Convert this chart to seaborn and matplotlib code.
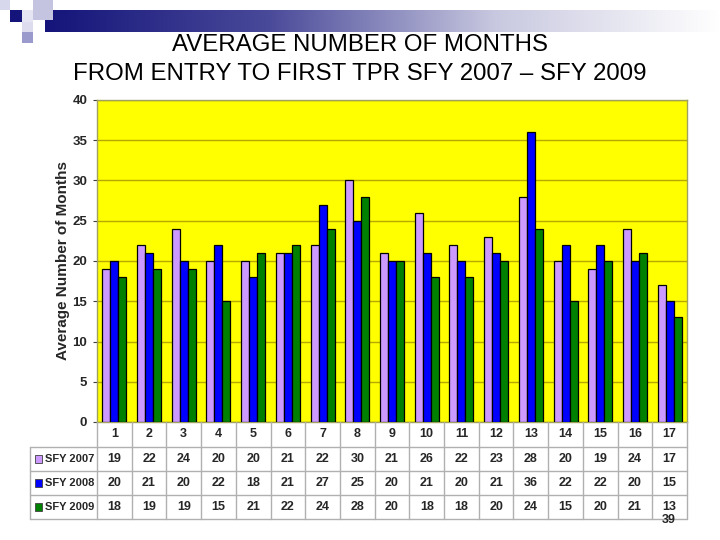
import matplotlib
matplotlib.use("Agg")
import matplotlib.pyplot as plt
import seaborn as sns
import pandas as pd
import numpy as np
from matplotlib.patches import Rectangle
from matplotlib.lines import Line2D
from matplotlib.colors import LinearSegmentedColormap
from matplotlib import font_manager

categories = [str(i) for i in range(1, 18)]
series_names = ["SFY 2007", "SFY 2008", "SFY 2009"]
sfy2007 = [19, 22, 24, 20, 20, 21, 22, 30, 21, 26, 22, 23, 28, 20, 19, 24, 17]
sfy2008 = [20, 21, 20, 22, 18, 21, 27, 25, 20, 21, 20, 21, 36, 22, 22, 20, 15]
sfy2009 = [18, 19, 19, 15, 21, 22, 24, 28, 20, 18, 18, 20, 24, 15, 20, 21, 13]
yticks = [0, 5, 10, 15, 20, 25, 30, 35, 40]
colors = ["#CC99FF", "#0000FF", "#008000"]
title_lines = ["AVERAGE NUMBER OF MONTHS", "FROM ENTRY TO FIRST TPR SFY 2007 – SFY 2009"]
ylabel = "Average Number of Months"

sns.set_theme(style="white")
plt.rcParams['font.family'] = ['Liberation Sans', 'DejaVu Sans']

available = {f.name for f in font_manager.fontManager.ttflist}
narrow_font = "Liberation Sans Narrow" if "Liberation Sans Narrow" in available else "Liberation Sans"
is_narrow = narrow_font == "Liberation Sans Narrow"
num_size = 10.5 if is_narrow else 9
lab_size = 10.5 if is_narrow else 8
nfam = [narrow_font, "DejaVu Sans"]

values = [sfy2007, sfy2008, sfy2009]
df = pd.DataFrame({
    "cat": categories * 3,
    "series": sum([[s] * len(categories) for s in series_names], []),
    "val": sum(values, []),
})

W_PX, H_PX = 720, 540
fig = plt.figure(figsize=(7.2, 5.4), dpi=100)

def fx(px):
    return px / W_PX

def fy(py):
    return 1 - py / H_PX

ax_l, ax_r, ax_t, ax_b = 97, 687, 100, 422
ax = fig.add_axes([fx(ax_l), fy(ax_b), fx(ax_r - ax_l), fy(ax_t) - fy(ax_b)])
ax.set_facecolor("#FFFF00")

sns.barplot(data=df, x="cat", y="val", hue="series", palette=colors,
            width=0.69, edgecolor="black", linewidth=0.9, ax=ax,
            legend=False, saturation=1, zorder=3)

ax.set_ylim(0, 40)
ax.set_xlim(-0.5, len(categories) - 0.5)
ax.set_yticks(yticks)
ax.set_yticklabels([str(t) for t in yticks], fontsize=num_size + 0.5, fontweight="bold", family=nfam)
ax.set_xticks([])
ax.set_xlabel("")
ax.set_ylabel(ylabel, fontsize=11, fontweight="bold", labelpad=2)
ax.grid(axis="y", color="#B8A800", linewidth=1.0, zorder=0)
ax.set_axisbelow(True)
for s in ax.spines.values():
    s.set_color("#A0A060")
    s.set_linewidth(1.0)
ax.tick_params(axis="y", length=3, width=0.8, color="#404040", pad=4, left=True)

# Title
fig.text(0.5, fy(45), title_lines[0], ha="center", va="center", fontsize=17.3, color="black")
fig.text(0.5, fy(74), title_lines[1], ha="center", va="center", fontsize=17.3, color="black")

# Decoration: gradient bar and squares
grad = np.linspace(0, 1, 256).reshape(1, -1)
cmap = LinearSegmentedColormap.from_list("g", ["#14147a", "#4a4a9a", "#c8c8e0", "#ffffff"])
gax = fig.add_axes([fx(45), fy(32), fx(720 - 45), fy(10) - fy(32)])
gax.imshow(grad, aspect="auto", cmap=cmap, extent=[0, 1, 0, 1])
gax.axis("off")
squares = [
    (0, 0, 10, 10, "#d8d8ec"),
    (10, 10, 12, 12, "#14147a"),
    (22, 10, 11, 12, "#e4e4f2"),
    (33, 0, 20, 20, "#c4c4e0"),
    (22, 22, 11, 10, "#dcdcee"),
    (22, 32, 11, 11, "#9a9acc"),
]
for (x, y, w, h, c) in squares:
    fig.patches.append(Rectangle((fx(x), fy(y + h)), fx(w), fy(y) - fy(y + h),
                                 transform=fig.transFigure, facecolor=c, edgecolor="none", zorder=5))

# Data table
n = len(categories)
col_w = (ax_r - ax_l) / n
row_tops = [422, 447, 471, 495, 519]
grid_c = "#B0B0B0"
def hline(x0, x1, y):
    fig.lines.append(Line2D([fx(x0), fx(x1)], [fy(y), fy(y)], transform=fig.transFigure,
                            color=grid_c, linewidth=1.0))
def vline(x, y0, y1):
    fig.lines.append(Line2D([fx(x), fx(x)], [fy(y0), fy(y1)], transform=fig.transFigure,
                            color=grid_c, linewidth=1.0))

for y in row_tops[1:]:
    hline(30, ax_r, y)
for i in range(n + 1):
    vline(ax_l + i * col_w, 422, 519)
vline(30, 447, 519)

for i, c in enumerate(categories):
    cx = ax_l + (i + 0.5) * col_w
    fig.text(fx(cx), fy(434), c, ha="center", va="center", fontsize=num_size,
             fontweight="bold", family=nfam)
    for r, vals in enumerate(values):
        cy = (row_tops[r + 1] + row_tops[r + 2]) / 2
        fig.text(fx(cx), fy(cy), str(vals[i]), ha="center", va="center", fontsize=num_size,
                 fontweight="bold", family=nfam)

for r, name in enumerate(series_names):
    cy = (row_tops[r + 1] + row_tops[r + 2]) / 2
    fig.patches.append(Rectangle((fx(35), fy(cy + 4)), fx(7), fy(cy - 4) - fy(cy + 4),
                                 transform=fig.transFigure, facecolor=colors[r],
                                 edgecolor="#404040", linewidth=0.6))
    fig.text(fx(45), fy(cy), name, ha="left", va="center", fontsize=lab_size,
             fontweight="bold", family=nfam)

fig.text(fx(669), fy(520), "39", ha="center", va="center", fontsize=9, fontweight="bold")

fig.savefig("out.png", dpi=100)
